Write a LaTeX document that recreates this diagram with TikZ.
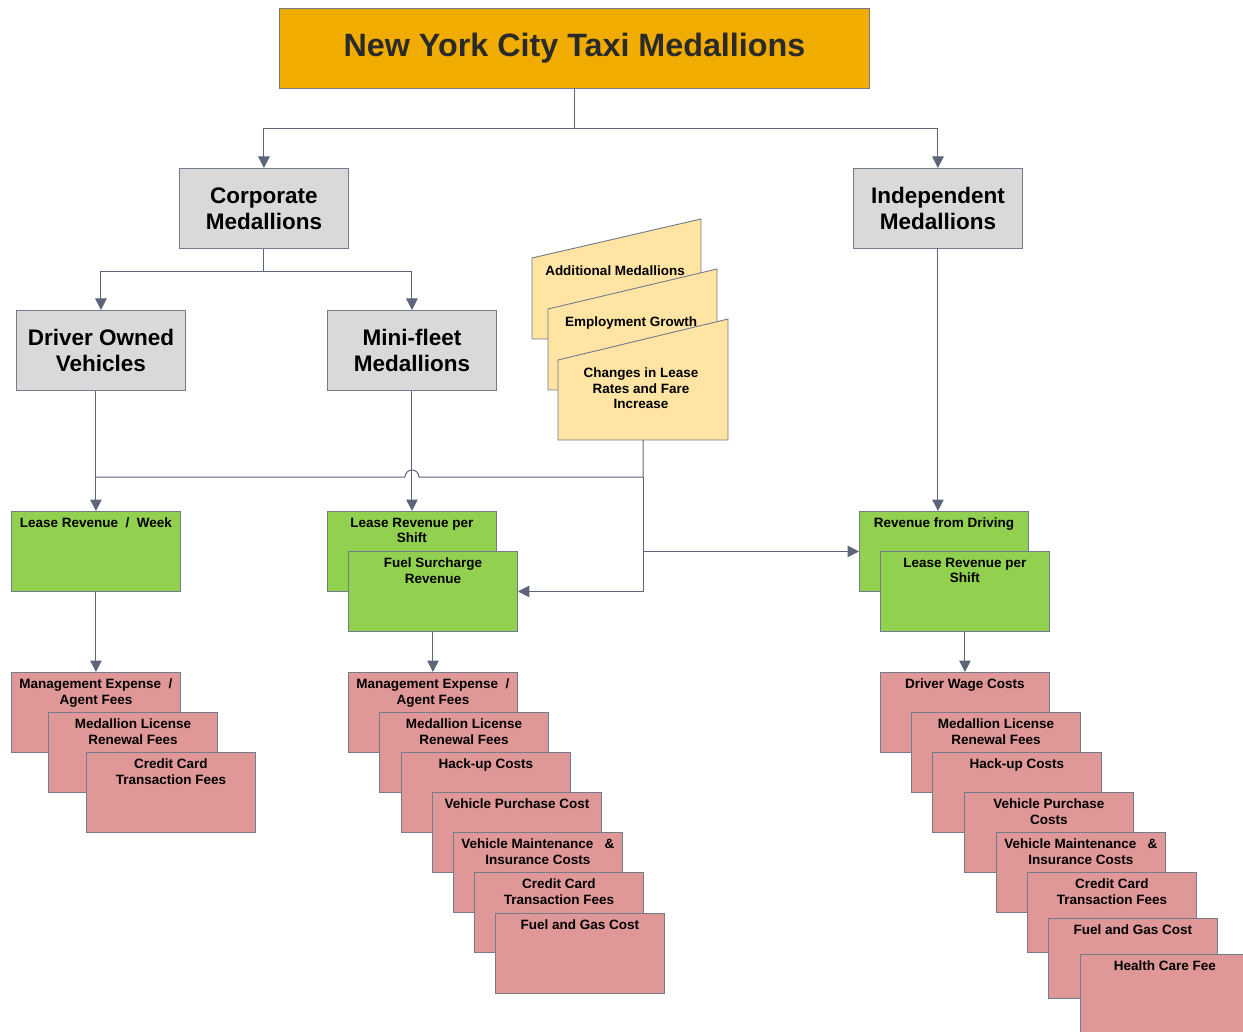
\documentclass[tikz,border=0pt]{standalone}
\usepackage{fontspec}
\setmainfont{Liberation Sans}
\usetikzlibrary{arrows.meta}

\definecolor{edgec}{HTML}{737B8C}
\definecolor{linec}{HTML}{5C6579}
\definecolor{taxi}{HTML}{F0AC00}
\definecolor{panel}{HTML}{D9D9D9}
\definecolor{income}{HTML}{92D050}
\definecolor{expense}{HTML}{DF9797}
\definecolor{factor}{HTML}{FFE4A3}
\definecolor{titletext}{HTML}{2A2A2A}

\tikzset{
  box/.style={draw=edgec, line width=0.9pt, anchor=north west, minimum width=169pt, minimum height=80pt, inner sep=0pt},
  head/.style={box, fill=panel, align=center, font=\bfseries\fontsize{22.5}{26}\selectfont},
  rev/.style={box, fill=income},
  cost/.style={box, fill=expense},
  card/.style={draw=edgec, line width=0.9pt, fill=factor},
  txt/.style={anchor=north, align=center, inner sep=0pt, yshift=-7pt, font=\bfseries\fontsize{13.5}{15.3}\selectfont},
  wire/.style={draw=linec, line width=1pt},
  arr/.style={wire, -{Triangle[length=11.5pt,width=11.5pt]}},
}

\begin{document}
\begin{tikzpicture}[x=1pt,y=-1pt]
			\path[use as bounding box, clip] (0,0) rectangle (1243,1032);

			\node[box, fill=taxi, minimum width=590pt, text=titletext, font=\bfseries\fontsize{32.3}{36}\selectfont] (title) at (279,8) {New York City Taxi Medallions};

			\node[head] (corp) at (179,168) {Corporate\\Medallions};
			\node[head] (indep) at (853,168) {Independent\\Medallions};
			\node[head] (drv) at (16,310) {Driver Owned\\Vehicles};
			\node[head] (mini) at (327,310) {Mini-fleet\\Medallions};

			% factors
			\filldraw[card] (532,258) -- (701,219) -- (701,339) -- (532,339) -- cycle;
			\node[txt] (addmed) at (615,259) {Additional Medallions};
			\filldraw[card] (548,309) -- (717,269) -- (717,390) -- (548,390) -- cycle;
			\node[txt] (employ) at (631,310) {Employment Growth};
			\filldraw[card] (558,360) -- (728,319) -- (728,440) -- (558,440) -- cycle;
			\node[txt] (changes) at (641,361) {Changes in Lease\\Rates and Fare\\Increase};
			\coordinate (chg) at (643,440);
			\coordinate (jn) at (643,477);

			% revenue
			\node[rev, label={[txt]north:Lease Revenue\ \ /\ \ Week}] (lrweek) at (11,511) {};
			\node[rev, label={[txt]north:Lease Revenue per\\Shift}] (lrshift) at (327,511) {};
			\node[rev, label={[txt]north:Fuel Surcharge\\Revenue}] (fuel) at (348,551) {};
			\node[rev, label={[txt]north:Revenue from Driving}] (revdrv) at (859,511) {};
			\node[rev, label={[txt]north:Lease Revenue per\\Shift}] (ilshift) at (880,551) {};

			% costs, driver owned
			\node[cost, label={[txt]north:Management Expense\ \ /\\Agent Fees}] (lmgmt) at (11,672) {};
			\node[cost, label={[txt]north:Medallion License\\Renewal Fees}] (llic) at (48,712) {};
			\node[cost, label={[txt]north:Credit Card\\Transaction Fees}] (lcc) at (86,752) {};

			% costs, mini-fleet
			\node[cost, label={[txt]north:Management Expense\ \ /\\Agent Fees}] (mmgmt) at (348,672) {};
			\node[cost, label={[txt]north:Medallion License\\Renewal Fees}] (mlic) at (379,712) {};
			\node[cost, label={[txt]north:Hack-up Costs}] (mhack) at (401,752) {};
			\node[cost, label={[txt]north:Vehicle Purchase Cost}] (mveh) at (432,792) {};
			\node[cost, label={[txt]north:Vehicle Maintenance\ \ \ \&\\Insurance Costs}] (mmaint) at (453,832) {};
			\node[cost, label={[txt]north:Credit Card\\Transaction Fees}] (mcc) at (474,872) {};
			\node[cost, label={[txt]north:Fuel and Gas Cost}] (mfuel) at (495,913) {};

			% costs, independent
			\node[cost, label={[txt]north:Driver Wage Costs}] (iwage) at (880,672) {};
			\node[cost, label={[txt]north:Medallion License\\Renewal Fees}] (ilic) at (911,712) {};
			\node[cost, label={[txt]north:Hack-up Costs}] (ihack) at (932,752) {};
			\node[cost, label={[txt]north:Vehicle Purchase\\Costs}] (iveh) at (964,792) {};
			\node[cost, label={[txt]north:Vehicle Maintenance\ \ \ \&\\Insurance Costs}] (imaint) at (996,832) {};
			\node[cost, label={[txt]north:Credit Card\\Transaction Fees}] (icc) at (1027,872) {};
			\node[cost, label={[txt]north:Fuel and Gas Cost}] (ifuel) at (1048,918) {};
			\node[cost, label={[txt]north:Health Care Fee}] (ihealth) at (1080,954) {};

			\coordinate (split) at ([yshift=-40pt]title.south);
			\coordinate (csplit) at ([yshift=-23pt]corp.south);

			\draw[arr] (title) -- (split) -| (corp);
			\draw[arr] (split) -| (indep);
			\draw[arr] (corp) -- (csplit) -| (drv);
			\draw[arr] (csplit) -| (mini);

			\draw[arr] (lrweek.north |- drv.south) -- (lrweek);
			\draw[arr] (mini) -- (lrshift);
			\draw[arr] (indep) -- (indep |- revdrv.north);

			\draw[wire] (chg) -- (jn) -- ([xshift=7pt]mini.south |- jn) arc (0:180:7pt) -- (lrweek.north |- jn);
			\draw[arr] (jn) |- (fuel);
			\draw[arr] (jn |- revdrv) -- (revdrv);

			\draw[arr] (lrweek) -- (lmgmt);
			\draw[arr] (fuel) -- (mmgmt);
			\draw[arr] (ilshift) -- (iwage);
		\end{tikzpicture}
\end{document}
